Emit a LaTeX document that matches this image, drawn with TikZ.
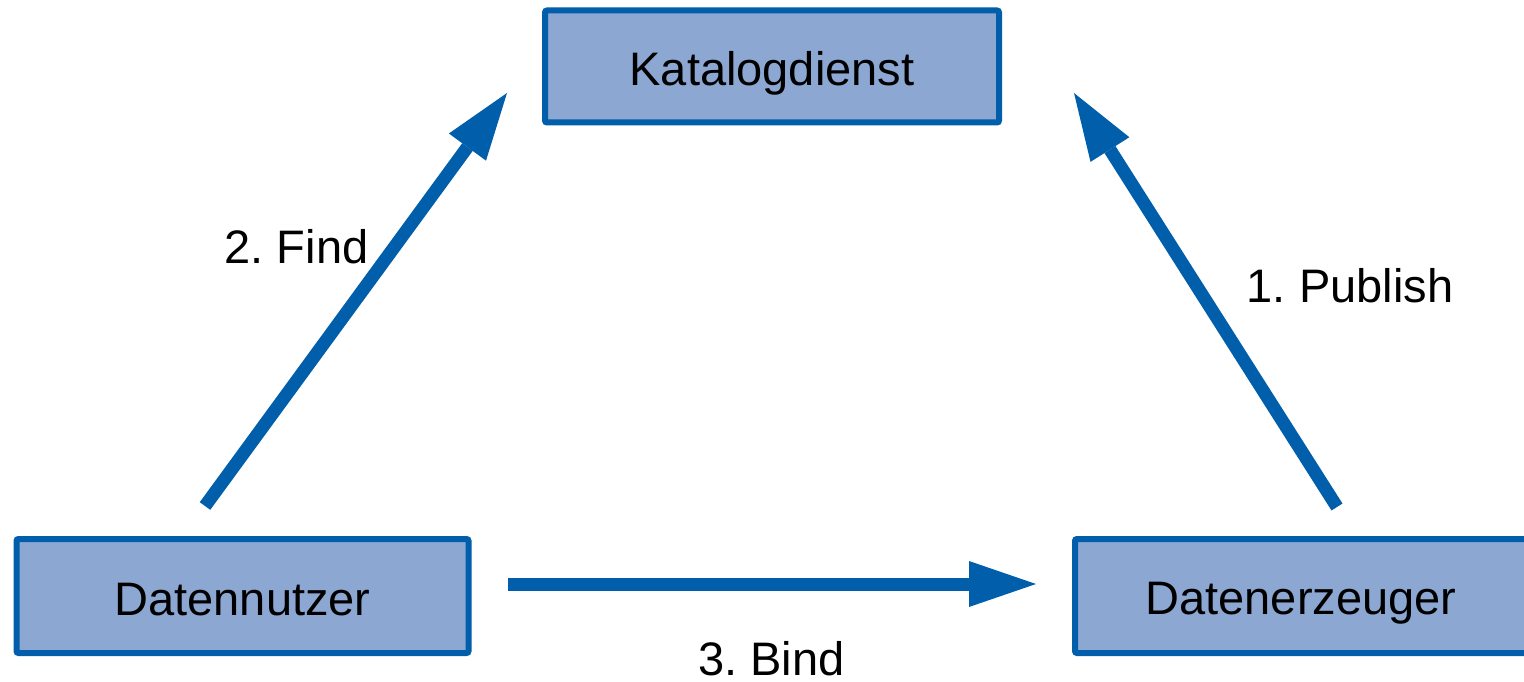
\documentclass[tikz,border=0pt]{standalone}
\usepackage{fontspec}
\setmainfont{Liberation Sans}
\usetikzlibrary{arrows.meta}
\definecolor{bordblue}{RGB}{0,94,170}
\definecolor{fillblue}{RGB}{139,167,210}
\frenchspacing
\tikzset{
  boxnode/.style={draw=bordblue, fill=fillblue, line width=6pt, rounded corners=2pt,
    inner sep=0pt, text height=39pt, text depth=0pt, font=\fontsize{47}{52}\selectfont},
  flow/.style={draw=bordblue, line width=13pt,
    -{Triangle[length=67pt,width=46pt,line width=0pt]}},
  lbl/.style={anchor=base, inner sep=0pt, font=\fontsize{47}{52}\selectfont}
}
\begin{document}
\begin{tikzpicture}[x=1pt,y=-1pt]
\useasboundingbox (0,0) rectangle (1524,682);
\begin{scope}
\clip (0,0) rectangle (1524,682);
\node[boxnode, minimum width=454pt, minimum height=112pt] (kat) at (772,66.5) {Katalogdienst};
\node[boxnode, minimum width=452pt, minimum height=114pt] (nutz) at (242.5,596) {Datennutzer};
\node[boxnode, minimum width=462pt, minimum height=114pt] (erz) at (1306,596) {};
\node[lbl] (erztext) at (1301,614) {Datenerzeuger};
\end{scope}
\coordinate (findA) at (205,506);
\coordinate (findB) at (507,93);
\coordinate (pubA) at (1337,507);
\coordinate (pubB) at (1074,93);
\coordinate (bindA) at (508,584);
\coordinate (bindB) at (1036,584);
\draw[flow] (findA) -- (findB);
\draw[flow] (pubA) -- (pubB);
\draw[flow] (bindA) -- (bindB);
\node[lbl] (lfind) at (296.5,263) {2. Find};
\node[lbl] (lpub) at (1350,302) {1. Publish};
\node[lbl] (lbind) at (771.5,675) {3. Bind};
\end{tikzpicture}
\end{document}
